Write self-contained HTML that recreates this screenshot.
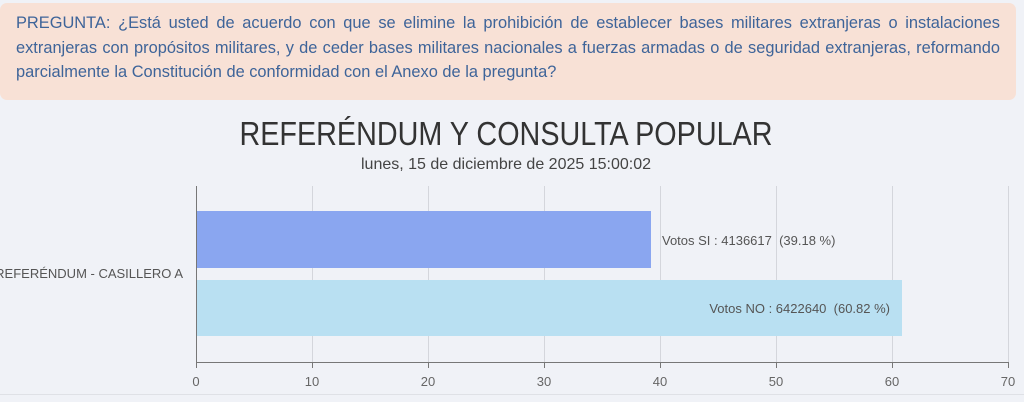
<!DOCTYPE html>
<html><head><meta charset="utf-8"><style>
html,body{margin:0;padding:0;width:1024px;height:402px;overflow:hidden;background:#f0f2f7;font-family:"Liberation Sans",sans-serif;}
.q{position:absolute;left:0;top:3px;width:984px;height:83px;padding:8px 16px 6px 16px;background:#f8e1d6;border-radius:7px;color:#3e6499;font-size:16.4px;line-height:24.5px;text-align:justify;}
</style></head><body>
<div class="q">PREGUNTA: ¿Está usted de acuerdo con que se elimine la prohibición de establecer bases militares extranjeras o instalaciones extranjeras con propósitos militares, y de ceder bases militares nacionales a fuerzas armadas o de seguridad extranjeras, reformando parcialmente la Constitución de conformidad con el Anexo de la pregunta?</div>
<svg width="1024" height="402" style="position:absolute;left:0;top:0" font-family="Liberation Sans, sans-serif">
<text x="506" y="145" text-anchor="middle" font-size="33" fill="#333" textLength="533" lengthAdjust="spacingAndGlyphs">REFERÉNDUM Y CONSULTA POPULAR</text>
<text x="506" y="169" text-anchor="middle" font-size="16" fill="#444">lunes, 15 de diciembre de 2025 15:00:02</text>
<g stroke="#d4d6dc" stroke-width="1">
<line x1="312.5" y1="186" x2="312.5" y2="363"/><line x1="428.5" y1="186" x2="428.5" y2="363"/><line x1="544.5" y1="186" x2="544.5" y2="363"/><line x1="660.5" y1="186" x2="660.5" y2="363"/><line x1="776.5" y1="186" x2="776.5" y2="363"/><line x1="892.5" y1="186" x2="892.5" y2="363"/><line x1="1008.5" y1="186" x2="1008.5" y2="363"/>
</g>
<rect x="196" y="211" width="455" height="57" fill="#8aa6f0"/>
<rect x="196" y="280" width="706" height="56" fill="#b9e0f2"/>
<g stroke="#777" stroke-width="1">
<line x1="196.5" y1="186" x2="196.5" y2="368"/>
<line x1="196" y1="362.5" x2="1009" y2="362.5"/>
<line x1="312.5" y1="362" x2="312.5" y2="368"/><line x1="428.5" y1="362" x2="428.5" y2="368"/><line x1="544.5" y1="362" x2="544.5" y2="368"/><line x1="660.5" y1="362" x2="660.5" y2="368"/><line x1="776.5" y1="362" x2="776.5" y2="368"/><line x1="892.5" y1="362" x2="892.5" y2="368"/><line x1="1008.5" y1="362" x2="1008.5" y2="368"/>
</g>
<line x1="0" y1="394.5" x2="1024" y2="394.5" stroke="#dfe1e6"/>
<g font-size="13" fill="#666" text-anchor="middle">
<text x="196" y="386">0</text><text x="312" y="386">10</text><text x="428" y="386">20</text><text x="544" y="386">30</text><text x="660" y="386">40</text><text x="776" y="386">50</text><text x="892" y="386">60</text><text x="1008" y="386">70</text>
</g>
<text x="662" y="245" font-size="13" fill="#555" style="white-space:pre">Votos SI : 4136617  (39.18 %)</text>
<text x="890" y="313" font-size="13" fill="#555" text-anchor="end" style="white-space:pre">Votos NO : 6422640  (60.82 %)</text>
<text x="183" y="278" font-size="13" fill="#555" text-anchor="end">REFERÉNDUM - CASILLERO A</text>
</svg>
</body></html>
